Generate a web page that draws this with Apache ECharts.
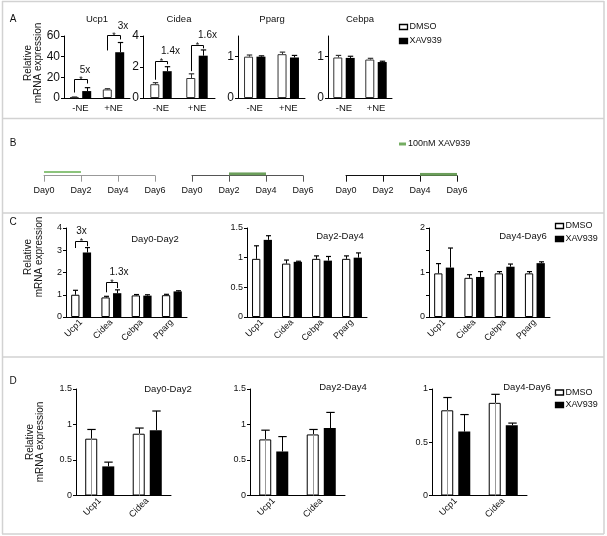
<!DOCTYPE html>
<html><head><meta charset="utf-8">
<script src="https://cdn.jsdelivr.net/npm/echarts@6/dist/echarts.min.js"></script>
<style>html,body{margin:0;padding:0;background:#fff}#c{width:607px;height:536px}</style>
</head><body><div id="c"></div>
<script>
// ---------- Panel A data ----------
const neCategories = ['-NE', '+NE'];
const ucp1Dmso = [0.7, 8.3];    const ucp1DmsoErr = [0.3, 0.7];
const ucp1Xav = [6.7, 44.3];    const ucp1XavErr = [3.3, 9.4];
const cideaDmso = [0.89, 1.29]; const cideaDmsoErr = [0.1, 0.27];
const cideaXav = [1.73, 2.73];  const cideaXavErr = [0.29, 0.37];
const ppargDmso = [1.0, 1.06];  const ppargDmsoErr = [0.04, 0.05];
const ppargXav = [1.0, 0.98];   const ppargXavErr = [0.02, 0.05];
const cebpaDmso = [0.98, 0.93]; const cebpaDmsoErr = [0.05, 0.03];
const cebpaXav = [0.97, 0.87];  const cebpaXavErr = [0.04, 0.02];
// brackets: [category, left leg bottom, right leg bottom, top]
const ucp1Brackets = [[0, 5.3, 14, 18.3], [1, 46, 56.7, 61]];
const ucp1FoldLabels = ['5x', '3x'];
const cideaBrackets = [[0, 1.18, 2.18, 2.4], [1, 1.73, 3.2, 3.4]];
const cideaFoldLabels = ['1.4x', '1.6x'];

// ---------- Panel B data ----------
const timelineDays = [0, 2, 4, 6];
const treatmentWindows = [[0, 2], [2, 4], [4, 6]];

// ---------- Panel C data ----------
const geneCategories = ['Ucp1', 'Cidea', 'Cebpa', 'Pparg'];
const c02Dmso = [1.0, 0.88, 0.97, 0.98]; const c02DmsoErr = [0.2, 0.05, 0.04, 0.04];
const c02Xav = [2.9, 1.07, 0.96, 1.15];  const c02XavErr = [0.22, 0.15, 0.04, 0.03];
const c24Dmso = [0.98, 0.9, 0.98, 0.98]; const c24DmsoErr = [0.22, 0.06, 0.05, 0.05];
const c24Xav = [1.3, 0.93, 0.95, 1.0];   const c24XavErr = [0.07, 0.01, 0.07, 0.08];
const c46Dmso = [0.98, 0.88, 0.98, 0.98]; const c46DmsoErr = [0.22, 0.07, 0.04, 0.04];
const c46Xav = [1.11, 0.9, 1.13, 1.21];   const c46XavErr = [0.44, 0.12, 0.06, 0.03];
const c02Brackets = [[0, 3.1, 3.18, 3.4], [1, 1.11, 1.3, 1.59]];
const c02FoldLabels = ['3x', '1.3x'];

// ---------- Panel D data ----------
const markerCategories = ['Ucp1', 'Cidea'];
const d02Dmso = [0.8, 0.87];  const d02DmsoErr = [0.13, 0.08];
const d02Xav = [0.41, 0.92];  const d02XavErr = [0.06, 0.27];
const d24Dmso = [0.79, 0.86]; const d24DmsoErr = [0.13, 0.07];
const d24Xav = [0.62, 0.95];  const d24XavErr = [0.21, 0.22];
const d46Dmso = [0.8, 0.87];  const d46DmsoErr = [0.12, 0.08];
const d46Xav = [0.6, 0.66];   const d46XavErr = [0.16, 0.02];

// ---------- build ----------
const FONT = '"Liberation Sans", Arial, sans-serif';
const INK = '#111';
const grids = [], xAxes = [], yAxes = [], series = [], graphics = [];

function txt(text, x, y, size, opt) {
  opt = opt || {};
  graphics.push({
    type: 'text', x: x, y: y, rotation: opt.rotation || 0, silent: true,
    style: { text: text, fill: opt.fill || INK, font: size + 'px ' + FONT,
      textAlign: opt.align || 'center', verticalAlign: 'middle', textVerticalAlign: 'middle',
      lineHeight: opt.lineHeight || size }
  });
}
function line(x1, y1, x2, y2, color, w) {
  graphics.push({ type: 'line', silent: true, shape: { x1, y1, x2, y2 }, style: { stroke: color, lineWidth: w } });
}
function rect(x, y, w, h, fill, stroke) {
  graphics.push({ type: 'rect', silent: true, shape: { x, y, width: w, height: h },
    style: { fill: fill, stroke: stroke, lineWidth: 1.3 } });
}

function errorSeries(i, vals, errs, side, p) {
  return {
    type: 'custom', xAxisIndex: i, yAxisIndex: i, z: 5, silent: true, clip: false,
    data: vals.map((v, k) => [k, v, errs[k]]),
    renderItem(params, api) {
      const k = api.value(0), v = api.value(1), e = api.value(2);
      const off = side * (p.barW * (1 + p.gap)) / 2;
      const c0 = api.coord([k, v]), c1 = api.coord([k, v + e]);
      const x = Math.round(c0[0] + off) + 0.5;
      const hw = p.barW * p.capFrac / 2;
      const col = side < 0 ? (p.dmsoErrColor || '#000') : '#000';
      const ch = [
        { type: 'line', shape: { x1: x, y1: c0[1], x2: x, y2: c1[1] }, style: { stroke: col, lineWidth: 1 } },
        { type: 'line', shape: { x1: x - hw, y1: c1[1], x2: x + hw, y2: c1[1] }, style: { stroke: col, lineWidth: 1.2 } }
      ];
      if (p.innerLine && side < 0) {
        const cb = api.coord([k, 0]);
        ch.push({ type: 'line', shape: { x1: x, y1: cb[1], x2: x, y2: c0[1] }, style: { stroke: '#999', lineWidth: 1 } });
      }
      return { type: 'group', children: ch };
    }
  };
}

function bracketSeries(i, brackets, labels, p) {
  return {
    type: 'custom', xAxisIndex: i, yAxisIndex: i, z: 6, silent: true, clip: false,
    data: brackets.map(b => [b[0], b[1], b[2], b[3]]),
    renderItem(params, api) {
      const b = brackets[params.dataIndex];
      const off = (p.barW * (1 + p.gap)) / 2;
      const c = api.coord([b[0], 0]);
      const xl = Math.round(c[0] - off) + 0.5, xr = Math.round(c[0] + off) + 0.5;
      const yl = api.coord([b[0], b[1]])[1], yr = api.coord([b[0], b[2]])[1];
      const yt = Math.round(api.coord([b[0], b[3]])[1]) + 0.5;
      const lo = p.labelOffsets[params.dataIndex];
      return {
        type: 'group', children: [
          { type: 'polyline', shape: { points: [[xl, yl], [xl, yt], [xr, yt], [xr, yr]] },
            style: { stroke: '#000', lineWidth: 1, fill: null } },
          { type: 'text', x: (xl + xr) / 2, y: yt - 4,
            style: { text: '*', font: '9px ' + FONT, fill: INK, textAlign: 'center', verticalAlign: 'top', textVerticalAlign: 'top' } },
          { type: 'text', x: (xl + xr) / 2 + lo[0], y: yt + lo[1],
            style: { text: labels[params.dataIndex], font: p.foldFont + 'px ' + FONT, fill: INK,
              textAlign: 'center', verticalAlign: 'middle', textVerticalAlign: 'middle' } }
        ]
      };
    }
  };
}

function addBarChart(p) {
  const i = grids.length;
  grids.push({ left: p.rect[0], top: p.rect[1], width: p.rect[2], height: p.rect[3] });
  xAxes.push({
    type: 'category', gridIndex: i, data: p.cats,
    axisLine: { lineStyle: { color: '#000', width: 1 } },
    axisTick: { alignWithLabel: true, length: 3, lineStyle: { color: '#000' } },
    axisLabel: { color: INK, fontFamily: FONT, fontSize: p.catFont, rotate: p.rotate || 0, margin: p.catMargin, interval: 0 }
  });
  const yl = { color: INK, fontFamily: FONT, fontSize: p.tickFont, margin: 4 };
  const yt = { show: true, length: 3, lineStyle: { color: '#000' } };
  if (p.labelValues) yl.customValues = p.labelValues;
  if (p.tickValues) yt.customValues = p.tickValues;
  yAxes.push({
    type: 'value', gridIndex: i, min: 0, max: p.yMax, interval: p.yInterval,
    splitLine: { show: false }, axisLine: { show: true, lineStyle: { color: '#000' } },
    axisTick: yt, axisLabel: yl
  });
  const gap = Math.round(p.gap * 100) + '%';
  series.push({ type: 'bar', name: 'DMSO', xAxisIndex: i, yAxisIndex: i, data: p.dmso, barWidth: p.barW, barGap: gap,
    silent: true, itemStyle: { color: '#fff', borderColor: p.dmsoBorder || '#000', borderWidth: 1 } });
  series.push({ type: 'bar', name: 'XAV939', xAxisIndex: i, yAxisIndex: i, data: p.xav, barWidth: p.barW, barGap: gap,
    silent: true, itemStyle: { color: '#000', borderColor: '#000', borderWidth: 0 } });
  series.push(errorSeries(i, p.dmso, p.dmsoErr, -1, p));
  series.push(errorSeries(i, p.xav, p.xavErr, 1, p));
  if (p.brackets) series.push(bracketSeries(i, p.brackets, p.foldLabels, p));
}

// Panel A
const aCommon = { cats: neCategories, barW: 9, gap: 0.38, capFrac: 0.6, catFont: 9.5, catMargin: 5, foldFont: 10, dmsoBorder: '#333', dmsoErrColor: '#333' };
addBarChart(Object.assign({}, aCommon, { rect: [64, 36, 66, 62], yMax: 60, yInterval: 20, tickFont: 12,
  dmso: ucp1Dmso, dmsoErr: ucp1DmsoErr, xav: ucp1Xav, xavErr: ucp1XavErr,
  brackets: ucp1Brackets, foldLabels: ucp1FoldLabels, labelOffsets: [[4, -9], [9, -9]] }));
addBarChart(Object.assign({}, aCommon, { rect: [143, 36, 72, 62], yMax: 4, yInterval: 2, tickFont: 12,
  dmso: cideaDmso, dmsoErr: cideaDmsoErr, xav: cideaXav, xavErr: cideaXavErr,
  brackets: cideaBrackets, foldLabels: cideaFoldLabels, labelOffsets: [[9, -10], [10, -10]] }));
addBarChart(Object.assign({}, aCommon, { rect: [238, 36, 67, 62], yMax: 1.5, yInterval: 0.5, tickFont: 12,
  labelValues: [0, 1], tickValues: [0, 1],
  dmso: ppargDmso, dmsoErr: ppargDmsoErr, xav: ppargXav, xavErr: ppargXavErr }));
addBarChart(Object.assign({}, aCommon, { rect: [328, 36, 64, 62], yMax: 1.5, yInterval: 0.5, tickFont: 12,
  labelValues: [0, 1], tickValues: [0, 1],
  dmso: cebpaDmso, dmsoErr: cebpaDmsoErr, xav: cebpaXav, xavErr: cebpaXavErr }));

// Panel B timelines
const tlLeft = [44, 192, 346];
const tlTop = [172, 173.8, 174.3];
const tlAxisColor = ['#999', '#555', '#111'];
const tlGreen = ['#8cc47c', '#6c9f5b', '#6c9f5b'];
const tlGreenW = [2, 3, 3];
treatmentWindows.forEach((w, t) => {
  const i = grids.length;
  grids.push({ left: tlLeft[t], top: tlTop[t], width: 111, height: 175.7 - tlTop[t] });
  xAxes.push({ type: 'value', gridIndex: i, min: timelineDays[0], max: timelineDays[timelineDays.length - 1], interval: 2,
    splitLine: { show: false },
    axisLine: { lineStyle: { color: tlAxisColor[t], width: 1 } },
    axisTick: { length: 6, lineStyle: { color: tlAxisColor[t] } },
    axisLabel: { color: INK, fontFamily: FONT, fontSize: 9, margin: 10, formatter: v => 'Day' + v } });
  yAxes.push({ type: 'value', gridIndex: i, min: 0, max: 1, show: false });
  series.push({ type: 'line', xAxisIndex: i, yAxisIndex: i, data: [[w[0], 1], [w[1], 1]], symbol: 'none', silent: true,
    lineStyle: { color: tlGreen[t], width: tlGreenW[t] } });
});

// Panel C
const cCommon = { cats: geneCategories, barW: 8.3, gap: 0.4, capFrac: 0.6, catFont: 9, catMargin: 4, rotate: 45, tickFont: 9, foldFont: 10 };
addBarChart(Object.assign({}, cCommon, { rect: [66, 228, 121, 89], yMax: 4, yInterval: 1,
  dmso: c02Dmso, dmsoErr: c02DmsoErr, xav: c02Xav, xavErr: c02XavErr,
  brackets: c02Brackets, foldLabels: c02FoldLabels, labelOffsets: [[0, -10], [7, -10]] }));
addBarChart(Object.assign({}, cCommon, { rect: [247, 228, 120, 89], yMax: 1.5, yInterval: 0.5,
  dmso: c24Dmso, dmsoErr: c24DmsoErr, xav: c24Xav, xavErr: c24XavErr }));
addBarChart(Object.assign({}, cCommon, { rect: [429, 228, 121, 89], yMax: 2, yInterval: 0.5, labelValues: [0, 1, 2],
  dmso: c46Dmso, dmsoErr: c46DmsoErr, xav: c46Xav, xavErr: c46XavErr }));

// Panel D
const dCommon = { cats: markerCategories, barW: 12, gap: 0.42, capFrac: 0.7, catFont: 9, catMargin: 4, rotate: 45, tickFont: 9, innerLine: true };
addBarChart(Object.assign({}, dCommon, { rect: [76, 389, 95, 106.5], yMax: 1.5, yInterval: 0.5,
  dmso: d02Dmso, dmsoErr: d02DmsoErr, xav: d02Xav, xavErr: d02XavErr }));
addBarChart(Object.assign({}, dCommon, { rect: [250, 389, 95, 106.5], yMax: 1.5, yInterval: 0.5,
  dmso: d24Dmso, dmsoErr: d24DmsoErr, xav: d24Xav, xavErr: d24XavErr }));
addBarChart(Object.assign({}, dCommon, { rect: [432, 389, 95, 106.5], yMax: 1, yInterval: 0.5,
  dmso: d46Dmso, dmsoErr: d46DmsoErr, xav: d46Xav, xavErr: d46XavErr }));

// ---------- frame and text ----------
const FR = '#d2d2d2';
line(2, 1.5, 604, 1.5, FR, 1.5);
line(2, 534, 604, 534, FR, 1.5);
line(2.5, 1, 2.5, 534, FR, 1.5);
line(604, 1, 604, 534, FR, 1.5);
line(2, 118.5, 604, 118.5, FR, 1.5);
line(2, 213, 604, 213, FR, 1.5);
line(2, 357, 604, 357, FR, 1.5);

txt('A', 13, 19, 10); txt('B', 13, 143, 10); txt('C', 13, 222, 10); txt('D', 13, 381, 10);
txt('Ucp1', 97, 19, 9.5); txt('Cidea', 179, 19, 9.5); txt('Pparg', 272, 19, 9.5); txt('Cebpa', 360, 19, 9.5);
txt('Relative\nmRNA expression', 33, 63, 10, { rotation: Math.PI / 2, lineHeight: 10 });
txt('Relative\nmRNA expression', 34, 257, 10, { rotation: Math.PI / 2, lineHeight: 11 });
txt('Relative\nmRNA expression', 35, 442, 10, { rotation: Math.PI / 2, lineHeight: 10 });

txt('Day0-Day2', 155, 239, 9.5); txt('Day2-Day4', 340, 236, 9.5); txt('Day4-Day6', 523, 236, 9.5);
txt('Day0-Day2', 168, 389, 9.5); txt('Day2-Day4', 343, 387, 9.5); txt('Day4-Day6', 527, 387, 9.5);

// legends
function legend(x, y, dy) {
  rect(x, y - 2.5, 8, 5, '#fff', '#000');
  txt('DMSO', x + 10, y, 9, { align: 'left' });
  rect(x, y + dy - 2.5, 8, 5, '#000', '#000');
  txt('XAV939', x + 10, y + dy, 9, { align: 'left' });
}
legend(399.5, 27, 14);
legend(555.5, 226, 13);
legend(555.5, 392.5, 12.5);
// timeline legend
line(399, 144, 406, 144, '#74ad62', 3);
txt('100nM XAV939', 408, 144, 9, { align: 'left' });

const chart = echarts.init(document.getElementById('c'), null, { renderer: 'canvas', width: 607, height: 536 });
chart.setOption({
  animation: false,
  backgroundColor: '#fff',
  textStyle: { fontFamily: FONT },
  grid: grids, xAxis: xAxes, yAxis: yAxes, series: series,
  graphic: { elements: graphics }
});
</script></body></html>
